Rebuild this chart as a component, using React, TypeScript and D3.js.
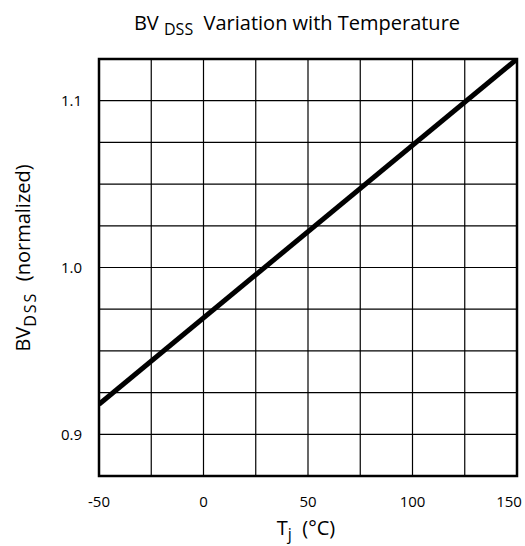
import React from "react";
import * as d3 from "d3";

const temps = [-50, 150];
const bvdss = [0.918, 1.125];
const xTicks = [-50, 0, 50, 100, 150];
const yTicks = [0.9, 1.0, 1.1];
const xGrid = [-50, -25, 0, 25, 50, 75, 100, 125, 150];
const yGrid = [0.875, 0.9, 0.925, 0.95, 0.975, 1.0, 1.025, 1.05, 1.075, 1.1, 1.125];

const W = 525, H = 546;
const L = 99, R = 517, T = 59, B = 476;
const FONT = "'Open Sans', 'Noto Sans', sans-serif";

export default function App() {
  const x = d3.scaleLinear().domain([-50, 150]).range([L, R]);
  const y = d3.scaleLinear().domain([0.875, 1.125]).range([B, T]);
  const data = temps.map((t, i) => [t, bvdss[i]] as [number, number]);
  const line = d3.line<[number, number]>().x(d => x(d[0])).y(d => y(d[1]));

  return (
    <svg width={W} height={H} style={{ position: "absolute", left: 0, top: 0, background: "#fff" }}>
      <defs>
        <clipPath id="plot">
          <rect x={L} y={T} width={R - L} height={B - T} />
        </clipPath>
      </defs>
      {xGrid.map(v => (
        <line key={"gx" + v} x1={x(v)} x2={x(v)} y1={T} y2={B} stroke="#000" strokeWidth={1.2} />
      ))}
      {yGrid.map(v => (
        <line key={"gy" + v} x1={L} x2={R} y1={y(v)} y2={y(v)} stroke="#000" strokeWidth={1.2} />
      ))}
      <path d={line(data) || ""} fill="none" stroke="#000" strokeWidth={5} clipPath="url(#plot)" />
      <rect x={L} y={T} width={R - L} height={B - T} fill="none" stroke="#000" strokeWidth={2.5} />
      {yTicks.map(v => (
        <text key={"yt" + v} x={82} y={y(v)} dy="0.35em" textAnchor="end" fontFamily={FONT} fontSize={15} fill="#000">
          {v.toFixed(1)}
        </text>
      ))}
      {xTicks.map(v => (
        <text key={"xt" + v} x={v === 150 ? x(v) - 8 : x(v)} y={507} textAnchor="middle" fontFamily={FONT} fontSize={15} fill="#000">
          {v}
        </text>
      ))}
      <text x={297} y={30} textAnchor="middle" fontFamily={FONT} fontSize={20} fill="#000" xmlSpace="preserve">
        BV <tspan fontSize={16} dy={5}>DSS</tspan><tspan dy={-5}>  Variation with Temperature</tspan>
      </text>
      <text x={306} y={535} textAnchor="middle" fontFamily={FONT} fontSize={20} fill="#000" xmlSpace="preserve">
        T<tspan fontSize={16} dy={5}>j</tspan><tspan dy={-5}>  (°C)</tspan>
      </text>
      <text transform={`translate(30, 258) rotate(-90)`} textAnchor="middle" fontFamily={FONT} fontSize={20} fill="#000" xmlSpace="preserve">
        BV<tspan fontSize={16} dy={6} letterSpacing={2}>DSS</tspan><tspan dy={-6}>  (normalized)</tspan>
      </text>
    </svg>
  );
}
